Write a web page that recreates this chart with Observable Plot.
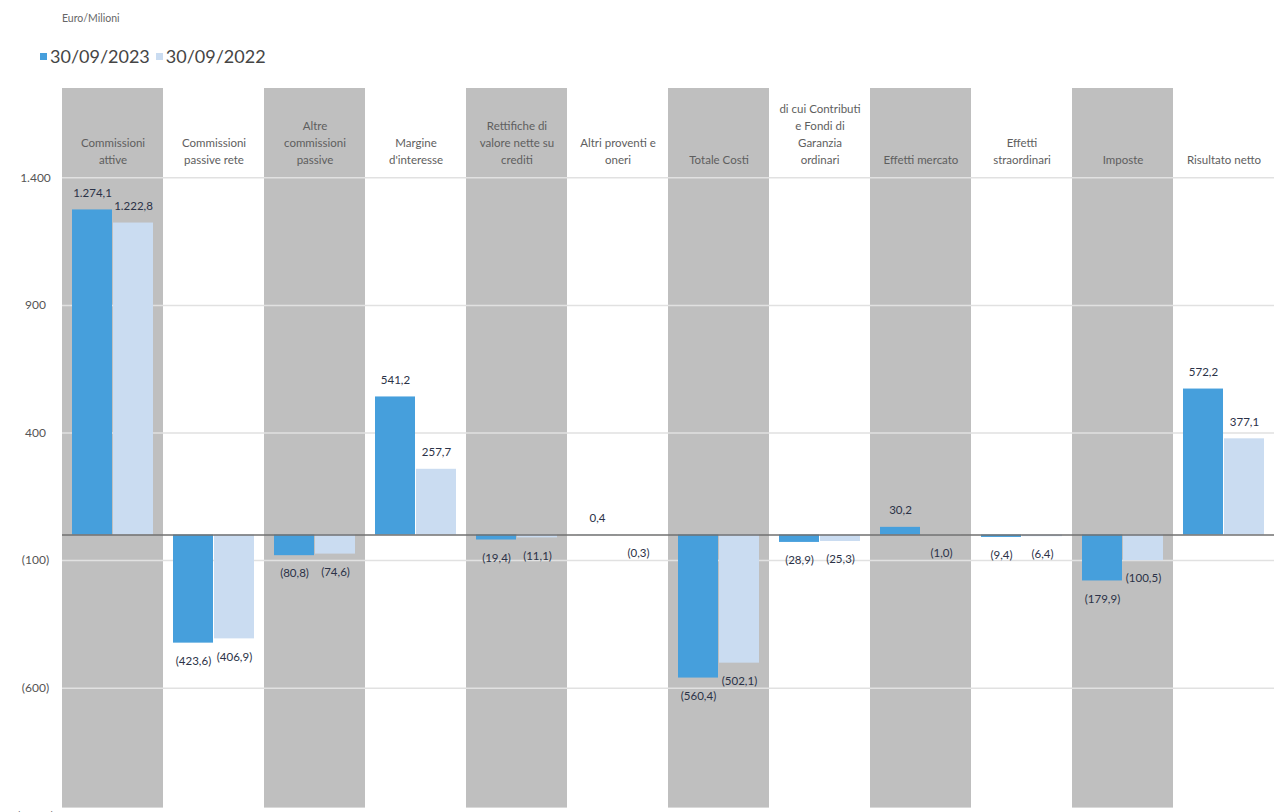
<!DOCTYPE html>
<html>
<head>
<meta charset="utf-8">
<script src="https://cdn.jsdelivr.net/npm/d3@7"></script>
<script src="https://cdn.jsdelivr.net/npm/@observablehq/plot@0.6"></script>
<style>
  html, body { margin: 0; padding: 0; background: #fff; overflow: hidden; width: 1275px; height: 812px; }
  body { font-family: Lato, "Open Sans", sans-serif; position: relative; }
  #unit { position: absolute; left: 62px; top: 12px; font-size: 10.5px; color: #666; }
  #legend { position: absolute; left: 40px; top: 45px; font-size: 18px; color: #454545; display: flex; align-items: center; }
  #legend .item { display: flex; align-items: center; margin-right: 6px; }
  #legend .sw { width: 7px; height: 7px; margin-right: 3px; }
  #chart { position: absolute; left: 0; top: 80px; }
</style>
</head>
<body>
<div id="unit">Euro/Milioni</div>
<div id="legend"></div>
<div id="chart"></div>
<script>
// ---- data ----
const categories = [
  "Commissioni attive", "Commissioni passive rete", "Altre commissioni passive",
  "Margine d'interesse", "Rettifiche di valore nette su crediti", "Altri proventi e oneri",
  "Totale Costi", "di cui Contributi e Fondi di Garanzia ordinari", "Effetti mercato",
  "Effetti straordinari", "Imposte", "Risultato netto"
];
const categoryLabels = [
  "Commissioni\nattive", "Commissioni\npassive rete", "Altre\ncommissioni\npassive",
  "Margine\nd'interesse", "Rettifiche di\nvalore nette su\ncrediti", "Altri proventi e\noneri",
  "Totale Costi", "di cui Contributi\ne Fondi di\nGaranzia\nordinari", "Effetti mercato",
  "Effetti\nstraordinari", "Imposte", "Risultato netto"
];
const series = ["30/09/2023", "30/09/2022"];
const values2023 = [1274.1, -423.6, -80.8, 541.2, -19.4, 0.4, -560.4, -28.9, 30.2, -9.4, -179.9, 572.2];
const values2022 = [1222.8, -406.9, -74.6, 257.7, -11.1, -0.3, -502.1, -25.3, -1.0, -6.4, -100.5, 377.1];
const shadedCategories = ["Commissioni attive", "Altre commissioni passive", "Rettifiche di valore nette su crediti", "Totale Costi", "Effetti mercato", "Imposte"];
const yTicks = [1400, 900, 400, -100, -600, -1100];
const yDomain = [-1150, 1750];
const shadeRange = [-1070, 1750];
const colors = ["#469fdc", "#cadcf1"];

// ---- build ----
const it = d3.formatLocale({decimal: ",", thousands: ".", grouping: [3], currency: ["", ""]});
const f1 = it.format(",.1f");
const f0 = it.format(",.0f");
const lab = v => v < 0 ? `(${f1(-v)})` : f1(v);
const tickLab = v => v < 0 ? `(${f0(-v)})` : f0(v);

const rows = [];
categories.forEach((c, i) => {
  rows.push({cat: c, series: series[0], value: values2023[i]});
  rows.push({cat: c, series: series[1], value: values2022[i]});
});
const catRows = categories.map((c, i) => ({cat: c, label: categoryLabels[i]}));
const shadeRows = shadedCategories.map(c => ({cat: c, lo: shadeRange[0], hi: shadeRange[1]}));

const legend = document.getElementById("legend");
series.forEach((s, i) => {
  const el = document.createElement("div");
  el.className = "item";
  el.innerHTML = `<span class="sw" style="background:${colors[i]}"></span><span>${s}</span>`;
  legend.appendChild(el);
});

const plot = Plot.plot({
  width: 1275,
  height: 748,
  marginTop: 8,
  marginBottom: 0,
  marginLeft: 61,
  marginRight: 0,
  style: {fontFamily: "Lato, 'Open Sans', sans-serif", background: "transparent"},
  fx: {domain: categories, padding: 0, axis: null},
  x: {domain: series, paddingInner: 0.03, paddingOuter: 0.22, axis: null},
  y: {domain: yDomain, axis: null},
  color: {domain: series, range: colors},
  marks: [
    Plot.rect(shadeRows, {fx: "cat", y1: "lo", y2: "hi", fill: "#bfbfbf"}),
    Plot.ruleY(yTicks, {stroke: "#e1e1e1", strokeWidth: 1.5}),
    Plot.barY(rows, {fx: "cat", x: "series", y: "value", fill: "series"}),
    Plot.ruleY([0], {stroke: "#707070", strokeWidth: 1.5}),
    Plot.axisY({ticks: yTicks, tickSize: 0, tickPadding: 27, textAnchor: "middle", tickFormat: tickLab, fontSize: 12, fill: "#555"}),
    Plot.text(catRows, {fx: "cat", text: "label", frameAnchor: "top", dy: 75, lineAnchor: "bottom", lineHeight: 1.45, fontSize: 11.5, fill: "#5e5e5e"}),
    Plot.text(rows.filter(d => d.value >= 0), {fx: "cat", x: "series", y: "value", text: d => lab(d.value), dy: -17, lineAnchor: "middle", fontSize: 11.5, fill: "#2b3247"}),
    Plot.text(rows.filter(d => d.value < 0), {fx: "cat", x: "series", y: "value", text: d => lab(d.value), dy: 18, lineAnchor: "middle", fontSize: 11.5, fill: "#2b3247"})
  ]
});
document.getElementById("chart").appendChild(plot);
</script>
</body>
</html>
